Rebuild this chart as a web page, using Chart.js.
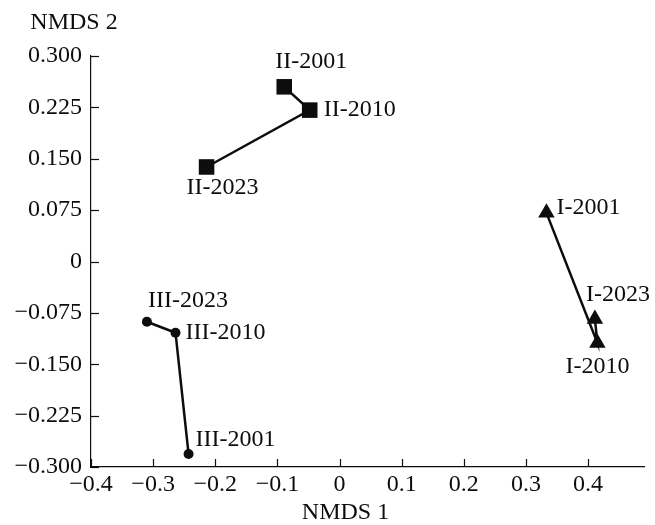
<!DOCTYPE html>
<html>
<head>
<meta charset="utf-8">
<script src="https://cdn.jsdelivr.net/npm/chart.js@4.4.1/dist/chart.umd.min.js"></script>
<style>
  html, body { margin: 0; padding: 0; background: #fff; }
  #wrap { width: 655px; height: 525px; }
</style>
</head>
<body>
<div id="wrap"><canvas id="grafico"></canvas></div>
<script>
// datos
const years = ['2001', '2010', '2023']
const groups = ['I', 'II', 'III']

const groupI_x = [0.333, 0.415, 0.411]
const groupI_y = [0.071, -0.119, -0.084]
const groupII_x = [-0.089, -0.048, -0.214]
const groupII_y = [0.255, 0.221, 0.138]
const groupIII_x = [-0.243, -0.264, -0.310]
const groupIII_y = [-0.281, -0.104, -0.088]

const xTicks = [-0.4, -0.3, -0.2, -0.1, 0, 0.1, 0.2, 0.3, 0.4]
const xTickLabels = ['\u22120.4', '\u22120.3', '\u22120.2', '\u22120.1', '0', '0.1', '0.2', '0.3', '0.4']
const yTicks = [-0.3, -0.225, -0.15, -0.075, 0, 0.075, 0.15, 0.225, 0.3]
const yTickLabels = ['\u22120.300', '\u22120.225', '\u22120.150', '\u22120.075', '0', '0.075', '0.150', '0.225', '0.300']

const xTitle = 'NMDS 1'
const yTitle = 'NMDS 2'

// posicion de etiquetas respecto al punto (px)
const labelPlace = [
  [{dx: 10, dy: -5, align: 'left'}, {dx: 0, dy: 24, align: 'center'}, {dx: -9, dy: -24, align: 'left'}],
  [{dx: -9, dy: -25, align: 'left'}, {dx: 14, dy: 0, align: 'left'}, {dx: 16, dy: 21, align: 'center'}],
  [{dx: 7, dy: -14, align: 'left'}, {dx: 10, dy: 0, align: 'left'}, {dx: 1, dy: -21, align: 'left'}],
]

const font = '"Liberation Serif", "Times New Roman", serif'
const ink = '#0d0d0d'

const makePoints = (xs, ys) => xs.map((x, i) => ({x: x, y: ys[i]}))

const plotArea = {left: 91, top: 56, right: 645, bottom: 467}

const extras = {
  id: 'extras',
  afterDraw: (chart) => {
    const ctx = chart.ctx
    const xs = chart.scales.x
    const ys = chart.scales.y
    ctx.save()
    ctx.strokeStyle = ink
    ctx.lineWidth = 1.2
    // marcas hacia dentro
    xTicks.forEach((v) => {
      const px = Math.round(xs.getPixelForValue(v)) + 0.5
      ctx.beginPath()
      ctx.moveTo(px, ys.bottom)
      ctx.lineTo(px, ys.bottom - 8)
      ctx.stroke()
    })
    yTicks.forEach((v) => {
      const py = Math.round(ys.getPixelForValue(v)) + 0.5
      ctx.beginPath()
      ctx.moveTo(xs.left, py)
      ctx.lineTo(xs.left + 8, py)
      ctx.stroke()
    })
    // etiquetas de puntos
    ctx.fillStyle = ink
    ctx.font = '24px ' + font
    ctx.textBaseline = 'middle'
    chart.data.datasets.forEach((ds, d) => {
      const meta = chart.getDatasetMeta(d)
      meta.data.forEach((pt, i) => {
        const p = labelPlace[d][i]
        ctx.textAlign = p.align
        ctx.fillText(groups[d] + '-' + years[i], pt.x + p.dx, pt.y + p.dy)
      })
    })
    // titulos de ejes
    ctx.textAlign = 'center'
    ctx.fillText(yTitle, 74, 23)
    ctx.fillText(xTitle, xs.getPixelForValue(0) + 6, 513)
    ctx.restore()
  },
}

const tickFont = {family: font, size: 24}

new Chart(document.getElementById('grafico'), {
  type: 'scatter',
  data: {
    datasets: [
      {label: 'I', data: makePoints(groupI_x, groupI_y), pointStyle: 'triangle', pointRadius: 9.5},
      {label: 'II', data: makePoints(groupII_x, groupII_y), pointStyle: 'rect', pointRadius: 11},
      {label: 'III', data: makePoints(groupIII_x, groupIII_y), pointStyle: 'circle', pointRadius: 5},
    ].map((ds) => Object.assign(ds, {
      showLine: true,
      borderColor: ink,
      backgroundColor: ink,
      borderWidth: 2.5,
      pointBorderWidth: 0,
      pointHoverRadius: ds.pointRadius,
      clip: false,
    })),
  },
  options: {
    responsive: true,
    maintainAspectRatio: false,
    animation: false,
    layout: {padding: {left: 0, top: plotArea.top, right: 655 - plotArea.right, bottom: 0}},
    plugins: {legend: {display: false}, tooltip: {enabled: false}},
    scales: {
      x: {
        type: 'linear',
        min: -0.4,
        max: 0.49,
        afterBuildTicks: (scale) => { scale.ticks = xTicks.map((v) => ({value: v})) },
        afterFit: (scale) => { scale.height = 525 - plotArea.bottom },
        grid: {display: false},
        border: {display: true, color: ink, width: 1.2},
        ticks: {
          font: tickFont,
          color: ink,
          padding: -5,
          maxRotation: 0,
          autoSkip: false,
          callback: (v, i) => xTickLabels[i],
        },
      },
      y: {
        type: 'linear',
        min: -0.3,
        max: 0.3,
        afterBuildTicks: (scale) => { scale.ticks = yTicks.map((v) => ({value: v})) },
        afterFit: (scale) => { scale.width = plotArea.left },
        grid: {display: false},
        border: {display: true, color: ink, width: 1.2},
        ticks: {
          font: tickFont,
          color: ink,
          padding: 1,
          autoSkip: false,
          callback: (v, i) => yTickLabels[i],
        },
      },
    },
  },
  plugins: [extras],
})
</script>
</body>
</html>
